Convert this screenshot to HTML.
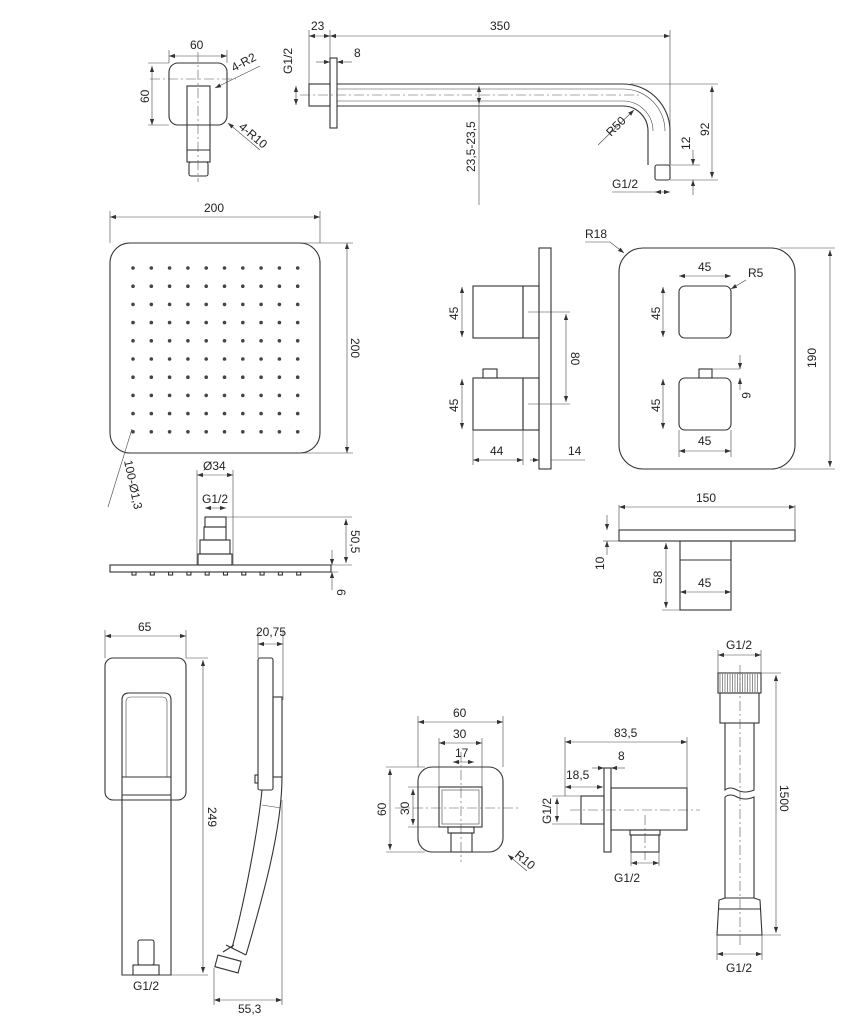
<!DOCTYPE html>
<html><head><meta charset="utf-8"><style>
html,body{margin:0;padding:0;background:#fff}
svg{display:block}
text{font-family:"Liberation Sans",sans-serif;font-size:12px;fill:#222}
.o{fill:none;stroke:#333;stroke-width:1.1}
.d{fill:none;stroke:#444;stroke-width:0.6}
.c{fill:none;stroke:#555;stroke-width:0.6;stroke-dasharray:10 3 2 3}
.a{fill:none;stroke:#444;stroke-width:0.6;marker-start:url(#m);marker-end:url(#m)}
</style></head><body>
<svg width="855" height="1024" viewBox="0 0 855 1024" xmlns="http://www.w3.org/2000/svg">
<defs><marker id="m" viewBox="0 0 10 10" refX="10" refY="5" markerWidth="8" markerHeight="6" orient="auto-start-reverse" markerUnits="userSpaceOnUse"><path d="M0,1.5 L10,5 L0,8.5z" fill="#333"/></marker></defs>

<!-- top-left bracket -->
<rect class="o" x="169" y="63" width="58" height="62" rx="9"/>
<rect class="o" x="187" y="86" width="23" height="76"/>
<line class="o" x1="187" y1="150" x2="210" y2="150"/>
<rect class="o" x="189" y="162" width="19" height="14" rx="2"/>
<line class="c" x1="198" y1="52" x2="198" y2="182"/><line class="c" x1="150" y1="79" x2="236" y2="79"/>
<line class="a" x1="169" y1="56" x2="227" y2="56"/><line class="d" x1="169" y1="50" x2="169" y2="63"/><line class="d" x1="227" y1="50" x2="227" y2="63"/>
<text x="190" y="49">60</text>
<line class="a" x1="152" y1="66" x2="152" y2="125"/><line class="d" x1="148" y1="63" x2="169" y2="63"/><line class="d" x1="148" y1="125" x2="169" y2="125"/>
<text transform="translate(149,103) rotate(-90)">60</text>
<line class="d" x1="260" y1="66" x2="215" y2="88" marker-end="url(#m)"/><text transform="translate(234,72) rotate(-28)">4-R2</text>
<line class="d" x1="260" y1="150" x2="228" y2="123" marker-end="url(#m)"/><text transform="translate(238,128) rotate(40)">4-R10</text>

<!-- shower arm -->
<rect class="o" x="309" y="84" width="21" height="22"/>
<rect class="o" x="330" y="58" width="7" height="70"/>
<path class="o" d="M337,84 H623 A47,47 0 0 1 670,131 V165 M337,106 H623 A25,25 0 0 1 648,131 V165"/>
<path class="d" d="M337,89 H623 A42,42 0 0 1 665,131 M337,101 H623 A30,30 0 0 1 653,131"/>
<rect class="o" x="655" y="165" width="15" height="15" rx="2"/>
<line class="c" x1="300" y1="95" x2="640" y2="95"/>
<line class="a" x1="309" y1="36" x2="330" y2="36"/><line class="a" x1="330" y1="36" x2="670" y2="36"/>
<line class="d" x1="309" y1="30" x2="309" y2="84"/><line class="d" x1="330" y1="30" x2="330" y2="58"/><line class="d" x1="670" y1="30" x2="670" y2="165"/>
<text x="311" y="30">23</text><text x="490" y="30">350</text>
<line class="d" x1="316" y1="62" x2="330" y2="62" marker-end="url(#m)"/><line class="d" x1="352" y1="62" x2="337" y2="62" marker-end="url(#m)"/><text x="354" y="57">8</text>
<line class="a" x1="296" y1="86" x2="296" y2="105"/><text transform="translate(292,74) rotate(-90)">G1/2</text>
<line class="a" x1="479" y1="86" x2="479" y2="104"/><line class="d" x1="479" y1="104" x2="479" y2="205"/>
<text transform="translate(475,172) rotate(-90)">23,5-23,5</text>
<line class="d" x1="598" y1="145" x2="634" y2="110" marker-end="url(#m)"/><text transform="translate(611,137) rotate(-45)">R50</text>
<line class="d" x1="630" y1="84" x2="718" y2="84"/><line class="d" x1="670" y1="180" x2="718" y2="180"/><line class="d" x1="670" y1="165" x2="700" y2="165"/>
<line class="a" x1="712" y1="86" x2="712" y2="178"/><text transform="translate(709,136) rotate(-90)">92</text>
<line class="d" x1="693" y1="150" x2="693" y2="165" marker-end="url(#m)"/><line class="d" x1="693" y1="195" x2="693" y2="180" marker-end="url(#m)"/>
<text transform="translate(690,150) rotate(-90)">12</text>
<line class="a" x1="655" y1="192" x2="670" y2="192"/><line class="d" x1="612" y1="192" x2="655" y2="192"/><text x="612" y="188">G1/2</text>

<!-- large head top view -->
<rect class="o" x="110" y="243" width="210" height="210" rx="20"/>
<g fill="#444" id="dots"></g>
<line class="a" x1="110" y1="217" x2="320" y2="217"/><line class="d" x1="110" y1="211" x2="110" y2="243"/><line class="d" x1="320" y1="211" x2="320" y2="243"/>
<text x="204" y="212">200</text>
<line class="a" x1="347" y1="243" x2="347" y2="453"/><line class="d" x1="300" y1="243" x2="353" y2="243"/><line class="d" x1="300" y1="453" x2="353" y2="453"/>
<text transform="translate(351,338) rotate(90)">200</text>
<line class="d" x1="132" y1="429" x2="108" y2="507"/>
<text transform="translate(124,461) rotate(78)">100-Ø1,3</text>

<!-- head side view -->
<rect class="o" x="110" y="565" width="221" height="7"/>
<g id="noz"></g>
<rect class="o" x="198" y="554" width="34" height="11"/>
<rect class="o" x="200" y="540" width="30" height="14"/>
<rect class="o" x="204" y="527" width="22" height="13"/>
<rect class="o" x="205" y="517" width="21" height="10"/>
<line class="d" x1="197" y1="470" x2="197" y2="565"/><line class="d" x1="233" y1="470" x2="233" y2="565"/>
<line class="a" x1="197" y1="475" x2="233" y2="475"/><text x="203" y="470">Ø34</text>
<line class="a" x1="205" y1="508" x2="226" y2="508"/><text x="202" y="503">G1/2</text>
<line class="d" x1="226" y1="517" x2="352" y2="517"/><line class="d" x1="320" y1="565" x2="352" y2="565"/><line class="d" x1="320" y1="572" x2="338" y2="572"/>
<line class="a" x1="346" y1="519" x2="346" y2="563"/><text transform="translate(351,530) rotate(90)">50,5</text>
<line class="d" x1="332" y1="550" x2="332" y2="565" marker-end="url(#m)"/><line class="d" x1="332" y1="590" x2="332" y2="572" marker-end="url(#m)"/>
<text transform="translate(337,589) rotate(90)">6</text>

<!-- thermostat side -->
<rect class="o" x="539" y="248" width="12" height="221"/>
<rect class="o" x="473" y="286" width="50" height="52"/><rect class="o" x="523" y="286" width="16" height="52"/>
<rect class="o" x="473" y="378" width="50" height="52"/><rect class="o" x="523" y="378" width="16" height="52"/>
<rect class="o" x="483" y="369" width="14" height="9"/>
<line class="a" x1="462" y1="287" x2="462" y2="337"/><text transform="translate(458,320) rotate(-90)">45</text>
<line class="a" x1="462" y1="379" x2="462" y2="429"/><text transform="translate(458,412) rotate(-90)">45</text>
<line class="d" x1="528" y1="312" x2="570" y2="312"/><line class="d" x1="528" y1="404" x2="570" y2="404"/>
<line class="a" x1="566" y1="314" x2="566" y2="402"/><text transform="translate(571,352) rotate(90)">80</text>
<line class="d" x1="473" y1="430" x2="473" y2="465"/><line class="d" x1="523" y1="430" x2="523" y2="465"/>
<line class="a" x1="473" y1="460" x2="523" y2="460"/><text x="490" y="455">44</text>
<line class="d" x1="551" y1="460" x2="585" y2="460"/><line class="d" x1="530" y1="460" x2="539" y2="460" marker-end="url(#m)"/>
<text x="568" y="455">14</text>

<!-- thermostat front -->
<rect class="o" x="619" y="248" width="176" height="221" rx="24"/>
<rect class="o" x="679" y="286" width="52" height="52" rx="6"/>
<rect class="o" x="679" y="378" width="52" height="52" rx="6"/>
<rect class="o" x="699" y="369" width="13" height="9"/>
<line class="a" x1="679" y1="276" x2="731" y2="276"/><text x="698" y="271">45</text>
<line class="a" x1="679" y1="451" x2="731" y2="451"/><line class="d" x1="679" y1="430" x2="679" y2="457"/><line class="d" x1="731" y1="430" x2="731" y2="457"/><text x="698" y="445">45</text>
<line class="a" x1="663" y1="287" x2="663" y2="337"/><text transform="translate(660,320) rotate(-90)">45</text>
<line class="a" x1="663" y1="379" x2="663" y2="429"/><text transform="translate(660,412) rotate(-90)">45</text>
<line class="d" x1="712" y1="369" x2="740" y2="369"/><line class="d" x1="740" y1="355" x2="740" y2="369" marker-end="url(#m)"/><line class="d" x1="740" y1="390" x2="740" y2="378" marker-end="url(#m)"/>
<text transform="translate(742,392) rotate(90)">6</text>
<text x="748" y="277">R5</text><line class="d" x1="746" y1="280" x2="731" y2="289" marker-end="url(#m)"/>
<text x="585" y="238">R18</text><line class="d" x1="585" y1="242" x2="610" y2="242"/><line class="d" x1="610" y1="242" x2="624" y2="253" marker-end="url(#m)"/>
<line class="d" x1="780" y1="248" x2="835" y2="248"/><line class="d" x1="780" y1="469" x2="835" y2="469"/>
<line class="a" x1="830" y1="250" x2="830" y2="467"/><text transform="translate(816,368) rotate(-90)">190</text>

<!-- thermostat bottom -->
<rect class="o" x="619" y="530" width="176" height="11"/>
<rect class="o" x="680" y="541" width="51" height="69"/><line class="o" x1="680" y1="560" x2="731" y2="560"/>
<line class="d" x1="619" y1="505" x2="619" y2="530"/><line class="d" x1="795" y1="505" x2="795" y2="530"/>
<line class="a" x1="619" y1="507" x2="795" y2="507"/><text x="696" y="502">150</text>
<line class="d" x1="607" y1="515" x2="607" y2="530" marker-end="url(#m)"/><line class="d" x1="607" y1="555" x2="607" y2="541" marker-end="url(#m)"/>
<line class="d" x1="603" y1="541" x2="619" y2="541"/><text transform="translate(604,570) rotate(-90)">10</text>
<line class="a" x1="666" y1="543" x2="666" y2="608"/><line class="d" x1="662" y1="610" x2="680" y2="610"/><text transform="translate(662,584) rotate(-90)">58</text>
<line class="a" x1="680" y1="592" x2="731" y2="592"/><text x="698" y="587">45</text>

<!-- hand shower front -->
<rect class="o" x="105" y="658" width="81" height="142" rx="8"/>
<path class="o" d="M122,975 V700 Q122,693 129,693 H164 Q171,693 171,700 V975 Z"/>
<path class="d" d="M126,777 V702 Q126,697 131,697 H162 Q167,697 167,702 V777"/>
<line class="o" x1="122" y1="777" x2="171" y2="777"/><line class="o" x1="122" y1="795" x2="171" y2="795"/>
<rect class="o" x="138" y="940" width="16" height="25" rx="2"/>
<rect class="o" x="133" y="965" width="26" height="10"/>
<line class="a" x1="105" y1="636" x2="186" y2="636"/><line class="d" x1="105" y1="630" x2="105" y2="658"/><line class="d" x1="186" y1="630" x2="186" y2="658"/>
<text x="138" y="631">65</text>
<line class="d" x1="186" y1="658" x2="208" y2="658"/><line class="d" x1="160" y1="975" x2="208" y2="975"/>
<line class="a" x1="203" y1="660" x2="203" y2="973"/><text transform="translate(208,807) rotate(90)">249</text>
<text x="133" y="990">G1/2</text>

<!-- hand shower side -->
<rect class="o" x="258" y="658" width="15" height="132" rx="2"/>
<rect class="o" x="273" y="697" width="9" height="80"/>
<rect class="o" x="255" y="775" width="3" height="8"/>
<path class="o" d="M262,790 C258,830 245,900 232,948 M282,777 C282,830 262,900 246,955"/>
<line class="d" x1="262" y1="805" x2="281" y2="808"/>
<path class="o" d="M226,945 L246,955 M223,952 L234,945"/>
<rect class="o" x="216" y="958" width="24" height="12" transform="rotate(15 228 964)"/>
<line class="d" x1="258" y1="630" x2="258" y2="658"/><line class="d" x1="283" y1="630" x2="283" y2="700"/>
<line class="a" x1="258" y1="644" x2="283" y2="644"/><text x="256" y="636">20,75</text>
<line class="d" x1="214" y1="968" x2="214" y2="1005"/><line class="d" x1="282" y1="800" x2="282" y2="1005"/>
<line class="a" x1="214" y1="1000" x2="282" y2="1000"/><text x="238" y="1013">55,3</text>

<!-- wall outlet front -->
<rect class="o" x="418" y="767" width="85" height="85" rx="14"/>
<rect class="o" x="439" y="787" width="43" height="40"/><rect class="d" x="442" y="790" width="37" height="34"/>
<rect class="o" x="448" y="827" width="26" height="6"/><rect class="o" x="451" y="833" width="21" height="19"/>
<line class="c" x1="461" y1="752" x2="461" y2="862"/><line class="c" x1="395" y1="808" x2="518" y2="808"/>
<line class="d" x1="418" y1="716" x2="418" y2="767"/><line class="d" x1="503" y1="716" x2="503" y2="767"/>
<line class="a" x1="418" y1="722" x2="503" y2="722"/><text x="453" y="717">60</text>
<line class="d" x1="439" y1="738" x2="439" y2="787"/><line class="d" x1="482" y1="738" x2="482" y2="787"/>
<line class="a" x1="439" y1="743" x2="482" y2="743"/><text x="453" y="738">30</text>
<line class="a" x1="453" y1="762" x2="474" y2="762"/><text x="455" y="757">17</text>
<line class="d" x1="386" y1="767" x2="425" y2="767"/><line class="d" x1="386" y1="852" x2="425" y2="852"/>
<line class="a" x1="390" y1="769" x2="390" y2="850"/><text transform="translate(386,816) rotate(-90)">60</text>
<line class="d" x1="408" y1="787" x2="439" y2="787"/><line class="d" x1="408" y1="827" x2="439" y2="827"/>
<line class="a" x1="413" y1="789" x2="413" y2="825"/><text transform="translate(409,815) rotate(-90)">30</text>
<line class="d" x1="527" y1="871" x2="508" y2="855" marker-end="url(#m)"/><text transform="translate(514,856) rotate(40)">R10</text>

<!-- wall outlet side -->
<rect class="o" x="604" y="768" width="7" height="84"/>
<rect class="o" x="581" y="796" width="23" height="28"/>
<rect class="o" x="611" y="788" width="76" height="42"/>
<rect class="o" x="630" y="830" width="30" height="5"/><rect class="o" x="631" y="835" width="28" height="17"/>
<line class="c" x1="570" y1="810" x2="700" y2="810"/><line class="c" x1="645" y1="815" x2="645" y2="860"/>
<line class="d" x1="565" y1="737" x2="565" y2="796"/><line class="d" x1="687" y1="737" x2="687" y2="788"/>
<line class="a" x1="565" y1="742" x2="687" y2="742"/><text x="614" y="737">83,5</text>
<line class="d" x1="592" y1="768" x2="604" y2="768" marker-end="url(#m)"/><line class="d" x1="625" y1="768" x2="611" y2="768" marker-end="url(#m)"/><text x="618" y="760">8</text>
<line class="a" x1="565" y1="787" x2="603" y2="787"/><text x="566" y="779">18,5</text>
<line class="d" x1="552" y1="796" x2="581" y2="796"/><line class="d" x1="552" y1="824" x2="581" y2="824"/>
<line class="a" x1="557" y1="798" x2="557" y2="822"/><text transform="translate(551,824) rotate(-90)">G1/2</text>
<line class="d" x1="631" y1="852" x2="631" y2="866"/><line class="d" x1="659" y1="852" x2="659" y2="866"/>
<line class="a" x1="631" y1="863" x2="659" y2="863"/><text x="614" y="882">G1/2</text>

<!-- hose -->
<rect class="o" x="718" y="673" width="43" height="20"/>
<g id="hatch"></g>
<rect class="o" x="720" y="693" width="39" height="30"/>
<path class="o" d="M725,723 V790 Q730,786 737,790 Q745,794 754,790 V723 M725,797 Q730,793 737,797 Q745,801 754,797 V898 M725,797 V898"/>
<path class="o" d="M725,898 L719,900 L717,935 H762 L760,900 L754,898 Z"/><line class="o" x1="718" y1="909" x2="761" y2="909"/>
<line class="c" x1="740" y1="665" x2="740" y2="945"/>
<line class="d" x1="718" y1="650" x2="718" y2="673"/><line class="d" x1="761" y1="650" x2="761" y2="673"/>
<line class="a" x1="718" y1="655" x2="761" y2="655"/><text x="726" y="649">G1/2</text>
<line class="d" x1="761" y1="673" x2="781" y2="673"/><line class="d" x1="762" y1="935" x2="781" y2="935"/>
<line class="a" x1="776" y1="675" x2="776" y2="933"/><text transform="translate(780,785) rotate(90)">1500</text>
<line class="d" x1="717" y1="935" x2="717" y2="960"/><line class="d" x1="762" y1="935" x2="762" y2="960"/>
<line class="a" x1="717" y1="954" x2="762" y2="954"/><text x="726" y="972">G1/2</text>
</svg>
<script>
var ns="http://www.w3.org/2000/svg",g=document.getElementById("dots");
for(var i=0;i<10;i++)for(var j=0;j<10;j++){var c=document.createElementNS(ns,"circle");c.setAttribute("cx",133+j*18.3);c.setAttribute("cy",268+i*18.2);c.setAttribute("r",1.8);g.appendChild(c);}
var n=document.getElementById("noz");
for(var k=0;k<10;k++){var r=document.createElementNS(ns,"rect");r.setAttribute("x",132+k*18.3);r.setAttribute("y",572);r.setAttribute("width",4);r.setAttribute("height",3);r.setAttribute("class","o");n.appendChild(r);}
var h=document.getElementById("hatch");
for(var x=720;x<760;x+=2.5){var l=document.createElementNS(ns,"line");l.setAttribute("x1",x);l.setAttribute("x2",x);l.setAttribute("y1",674);l.setAttribute("y2",692);l.setAttribute("class","d");h.appendChild(l);}
</script>
</body></html>
